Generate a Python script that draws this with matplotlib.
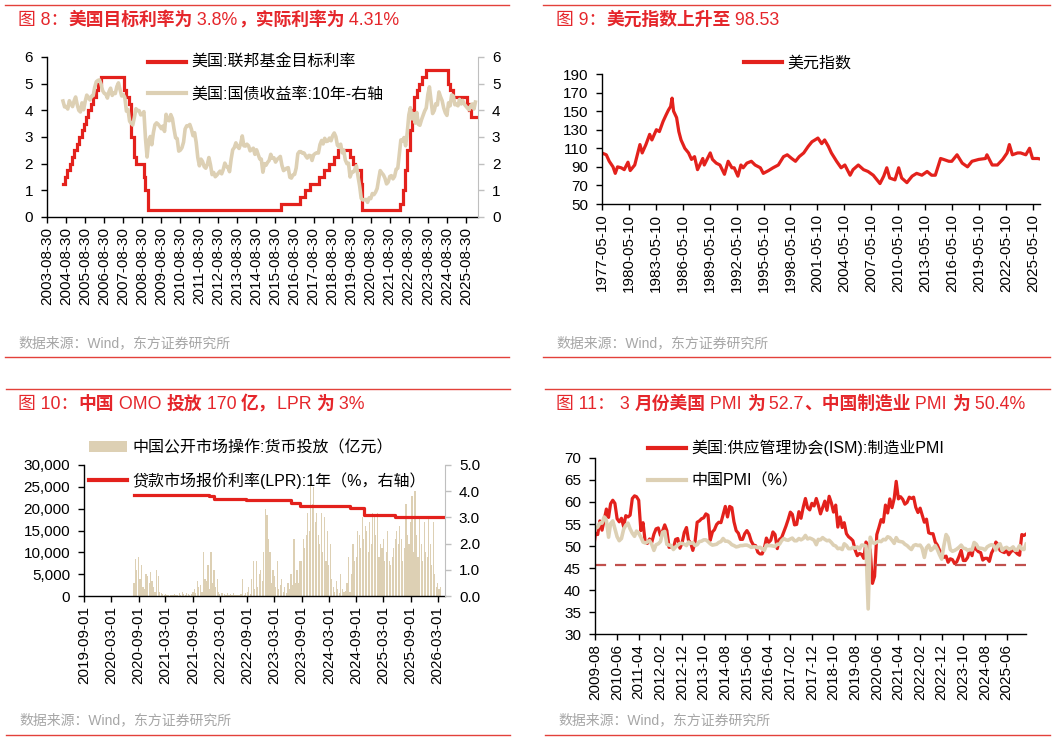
import matplotlib
matplotlib.use("Agg")
import matplotlib.pyplot as plt
import matplotlib.dates as mdates
import pandas as pd
from matplotlib.lines import Line2D
from matplotlib.patches import Patch
from matplotlib.offsetbox import TextArea, HPacker, AnchoredOffsetbox
from matplotlib.ticker import FuncFormatter, MultipleLocator

plt.rcParams["font.family"] = ["Liberation Sans", "Noto Sans CJK SC"]

RED = "#e3211c"
TITLE_RED = "#e5262b"
BEIGE = "#ddd0b4"
GREY_TEXT = "#a6a6a6"
W, H = 1061, 741

# ---- 图 8: Fed target rate (steps) and 10Y treasury yield (monthly)
fed_dates = ["2004-06-30", "2004-08-10", "2004-09-21", "2004-11-10", "2004-12-14",
             "2005-02-02", "2005-03-22", "2005-05-03", "2005-06-30", "2005-08-09",
             "2005-09-20", "2005-11-01", "2005-12-13", "2006-01-31", "2006-03-28",
             "2006-05-10", "2006-06-29", "2007-09-18", "2007-10-31", "2007-12-11",
             "2008-01-22", "2008-01-30", "2008-03-18", "2008-04-30", "2008-10-08",
             "2008-10-29", "2008-12-16", "2015-12-16", "2016-12-14", "2017-03-15",
             "2017-06-14", "2017-12-13", "2018-03-21", "2018-06-13", "2018-09-26",
             "2018-12-19", "2019-07-31", "2019-09-18", "2019-10-30", "2020-03-03",
             "2020-03-15", "2022-03-16", "2022-05-04", "2022-06-15", "2022-07-27",
             "2022-09-21", "2022-11-02", "2022-12-14", "2023-02-01", "2023-03-22",
             "2023-05-03", "2023-07-26", "2024-09-18", "2024-11-07", "2024-12-18",
             "2025-09-17", "2025-10-29", "2025-12-10", "2026-03-31"]
fed_rate = [1.25, 1.5, 1.75, 2.0, 2.25,
            2.5, 2.75, 3.0, 3.25, 3.5,
            3.75, 4.0, 4.25, 4.5, 4.75,
            5.0, 5.25, 4.75, 4.5, 4.25,
            3.5, 3.0, 2.25, 2.0, 1.5,
            1.0, 0.25, 0.5, 0.75, 1.0,
            1.25, 1.5, 1.75, 2.0, 2.25,
            2.5, 2.25, 2.0, 1.75, 1.25,
            0.25, 0.5, 1.0, 1.75, 2.5,
            3.25, 4.0, 4.5, 4.75, 5.0,
            5.25, 5.5, 5.0, 4.75, 4.5,
            4.25, 4.0, 3.75, 3.75]

ust10y_start = "2004-07-01"
ust10y = [
    4.35, 4.13, 4.14, 4.05, 4.36, 4.24,
    4.14, 4.36, 4.50, 4.21, 4.00, 3.94, 4.28, 4.02, 4.34, 4.57, 4.49, 4.39,
    4.53, 4.55, 4.85, 5.07, 5.12, 5.14, 4.99, 4.74, 4.64, 4.61, 4.46, 4.70,
    4.83, 4.56, 4.65, 4.63, 4.89, 5.03, 4.78, 4.54, 4.59, 4.48, 3.97, 4.03,
    3.59, 3.51, 3.45, 3.73, 4.06, 3.99, 3.99, 3.83, 3.85, 3.95, 2.93, 2.25,
    2.87, 3.02, 2.71, 3.16, 3.46, 3.53, 3.48, 3.40, 3.31, 3.41, 3.21, 3.85,
    3.63, 3.61, 3.84, 3.69, 3.31, 2.97, 2.94, 2.47, 2.51, 2.60, 2.81, 3.30,
    3.42, 3.42, 3.47, 3.29, 3.05, 3.16, 2.80, 2.23, 1.92, 2.17, 2.08, 1.89,
    1.83, 1.98, 2.23, 1.95, 1.59, 1.67, 1.51, 1.57, 1.65, 1.72, 1.62, 1.78,
    2.02, 1.89, 1.87, 1.70, 2.16, 2.52, 2.60, 2.78, 2.64, 2.57, 2.75, 3.04,
    2.67, 2.66, 2.73, 2.67, 2.48, 2.53, 2.58, 2.35, 2.52, 2.35, 2.18, 2.17,
    1.68, 2.00, 1.94, 2.05, 2.12, 2.35, 2.20, 2.22, 2.06, 2.16, 2.21, 2.27,
    1.94, 1.74, 1.78, 1.83, 1.85, 1.49, 1.46, 1.58, 1.60, 1.84, 2.37, 2.45,
    2.45, 2.39, 2.40, 2.29, 2.21, 2.31, 2.30, 2.12, 2.33, 2.38, 2.41, 2.40,
    2.72, 2.87, 2.74, 2.95, 2.83, 2.85, 2.96, 2.86, 3.05, 3.15, 3.01, 2.69,
    2.63, 2.73, 2.41, 2.51, 2.14, 2.00, 2.02, 1.50, 1.68, 1.69, 1.78, 1.92,
    1.51, 1.15, 0.70, 0.64, 0.65, 0.66, 0.55, 0.72, 0.69, 0.88, 0.84, 0.93,
    1.07, 1.44, 1.74, 1.65, 1.58, 1.45, 1.24, 1.31, 1.52, 1.55, 1.43, 1.52,
    1.79, 1.83, 2.32, 2.89, 2.85, 2.98, 2.67, 3.15, 3.83, 4.10, 3.68, 3.88,
    3.52, 3.92, 3.48, 3.44, 3.64, 3.81, 3.97, 4.09, 4.59, 4.88, 4.37, 3.88,
    3.99, 4.25, 4.20, 4.69, 4.51, 4.36, 4.09, 3.91, 3.81, 4.28, 4.17, 4.58,
    4.54, 4.21, 4.23, 4.17, 4.41, 4.24, 4.37, 4.23, 4.15, 4.08, 4.02, 4.17,
    4.24, 4.05, 4.31,
]

# ---- 图 9: dollar index
dxy_dates = ["1977-05", "1977-11", "1978-03", "1978-08", "1978-11", "1979-02", "1979-07",
             "1979-11", "1980-04", "1980-07", "1981-01", "1981-08", "1981-11", "1982-04",
             "1982-09", "1982-12", "1983-06", "1983-10", "1984-03", "1984-07", "1984-10",
             "1985-01", "1985-03", "1985-05", "1985-09", "1985-12", "1986-03", "1986-08",
             "1987-01", "1987-05", "1987-09", "1988-01", "1988-04", "1988-08", "1988-10",
             "1989-06", "1989-09", "1990-02", "1990-07", "1991-01", "1991-06", "1991-11",
             "1992-02", "1992-07", "1992-11", "1993-02", "1993-07", "1994-01", "1994-06",
             "1995-01", "1995-05", "1995-12", "1996-06", "1997-01", "1997-08", "1998-01",
             "1998-07", "1998-12", "1999-05", "1999-11", "2000-05", "2000-10", "2001-02",
             "2001-06", "2001-11", "2002-03", "2002-08", "2002-12", "2003-07", "2004-01",
             "2004-06", "2005-01", "2005-05", "2005-12", "2006-07", "2007-01", "2007-08",
             "2008-05", "2008-10", "2009-02", "2009-06", "2010-01", "2010-06", "2010-10",
             "2011-05", "2011-12", "2012-06", "2013-01", "2013-08", "2014-02", "2014-07",
             "2015-02", "2015-06", "2016-01", "2016-05", "2016-12", "2017-07", "2018-02",
             "2018-08", "2019-05", "2020-02", "2020-04", "2020-11", "2021-06", "2022-01",
             "2022-07", "2022-10", "2023-02", "2023-09", "2024-01", "2024-08", "2025-01",
             "2025-05", "2025-12", "2026-03"]
dxy = [105, 103, 96, 90, 83, 90, 89,
       87, 95, 86, 92, 114, 105, 114,
       125, 119, 130, 128, 139, 146, 151,
       155, 164, 150, 143, 128, 119, 110,
       105, 98, 101, 87, 92, 99, 92,
       105, 98, 94, 92, 82, 96, 89,
       89, 80, 92, 89, 94, 96, 92,
       89, 83, 86, 89, 92, 101, 103,
       99, 96, 101, 105, 112, 117, 119,
       121, 115, 119, 112, 105, 96, 89,
       92, 81, 87, 92, 87, 85, 81,
       72, 80, 89, 78, 76, 89, 78,
       73, 80, 83, 81, 85, 81, 81,
       99, 98, 96, 96, 103, 94, 90,
       96, 98, 99, 103, 92, 92, 98,
       105, 114, 103, 105, 105, 103, 110,
       99, 99, 98.5]
dxy_ticks = [50, 70, 90, 110, 130, 150, 170, 190]

# ---- 图 10: OMO injection (亿元), three readings a month, and 1Y LPR
omo_months = ("2020-08-01", "2026-03-01")
omo = [
    3000, 8500, 6000, 9000, 4000, 7000, 2000, 1500, 5000, 4500, 3000, 5500, 3500, 2000, 1000,
    6000, 4500, 1000, 600, 500, 300, 400, 300, 300, 300, 200, 300,
    400, 300, 200, 600, 300, 1000, 400, 300, 600, 500, 300, 400,
    1000, 1500, 800, 3500, 2000, 2500, 1000, 10000, 4000, 3500, 7000, 1500,
    10000, 3000, 6000, 2000, 4000, 1000, 500, 800, 600, 400, 300, 600,
    300, 500, 300, 800, 300, 200, 200, 300, 400, 4000, 300, 600,
    1000, 2000, 500, 4000, 8000, 1500, 8000, 2000, 5000, 6000, 3500, 10000,
    20000, 18600, 13000, 10000, 3000, 6000, 4500, 2000, 8000, 1500, 2500, 4000,
    1000, 2000, 600, 3000, 1500, 5000, 2500, 13000, 3000, 6000, 3000, 8000,
    8000, 13000, 11000, 14000, 19000, 15000, 27000, 21000, 25000, 17000, 19000, 14000,
    12000, 19000, 10000, 18000, 8000, 15000, 7000, 12000, 4000, 2000, 900, 3500,
    1500, 800, 5000, 1500, 900, 1200, 3000, 9000, 1000, 5000, 12000, 8000,
    9000, 15000, 14000, 11000, 18000, 13000, 16000, 15000, 10000, 17000, 12000, 19000,
    18000, 14000, 19000, 9000, 12000, 11000, 13000, 8000, 10000, 15000, 8000, 7000,
    9000, 11000, 13000, 15000, 12000, 16000, 13000, 8000, 11000, 21000, 14000, 12000,
    17000, 23000, 10000, 24000, 14000, 9000, 18000, 12000, 8000, 17000, 10000, 9000,
    18000, 12000, 7000, 17000, 5000, 2000, 3000, 1500, 2000,
]
lpr_dates = ["2020-08-01", "2021-12-20", "2022-01-20", "2022-08-22", "2023-06-20",
             "2023-08-21", "2024-07-22", "2024-10-21", "2025-05-20", "2026-04-30"]
lpr_1y = [3.85, 3.80, 3.70, 3.65, 3.55, 3.45, 3.35, 3.10, 3.00, 3.00]

# ---- 图 11: ISM manufacturing PMI and China PMI, monthly from 2009-07
pmi_start = "2009-07-01"
ism_pmi = [
    48.9, 52.9, 52.6, 55.7, 53.6, 55.9,
    58.4, 56.5, 59.6, 60.4, 59.7, 56.2, 55.5, 56.3, 54.4, 56.9, 56.6, 57.0,
    60.8, 61.4, 61.2, 60.4, 53.5, 55.3, 50.9, 50.6, 51.6, 50.8, 52.7, 53.9,
    54.1, 52.4, 53.4, 54.8, 53.5, 49.7, 49.8, 49.6, 51.5, 51.7, 49.5, 50.7,
    53.1, 54.2, 51.3, 50.7, 49.0, 50.9, 55.4, 55.7, 56.2, 56.4, 57.3, 57.0,
    51.3, 53.2, 53.7, 54.9, 55.4, 55.3, 57.1, 59.0, 56.6, 59.0, 58.7, 55.5,
    53.5, 52.9, 51.5, 51.5, 52.8, 53.5, 52.7, 51.1, 50.2, 50.1, 48.6, 48.2,
    48.2, 49.5, 51.8, 50.8, 51.3, 53.2, 52.6, 49.4, 51.5, 51.9, 53.2, 54.5,
    56.0, 57.7, 57.2, 54.8, 54.9, 57.8, 56.3, 58.8, 60.8, 58.7, 58.2, 59.7,
    59.1, 60.8, 59.3, 57.3, 58.7, 60.2, 58.1, 61.3, 59.8, 57.7, 59.3, 54.3,
    56.6, 54.2, 55.3, 52.8, 52.1, 51.7, 51.2, 49.1, 47.8, 48.3, 48.1, 47.2,
    50.9, 50.1, 49.1, 41.5, 43.1, 52.6, 54.2, 56.0, 55.4, 59.3, 57.5, 60.7,
    58.7, 60.8, 64.7, 60.7, 61.2, 60.6, 59.5, 59.9, 61.1, 60.8, 61.1, 58.8,
    57.6, 58.6, 57.1, 55.4, 56.1, 53.0, 52.8, 52.8, 50.9, 50.2, 49.0, 48.4,
    47.4, 47.7, 46.3, 47.1, 46.9, 46.0, 46.4, 47.6, 49.0, 46.7, 46.7, 47.4,
    49.1, 47.8, 50.3, 49.2, 48.7, 48.5, 46.8, 47.2, 47.2, 46.5, 48.4, 49.3,
    50.9, 50.3, 49.0, 48.7, 48.5, 49.0, 48.0, 48.7, 49.1, 48.7, 48.2, 47.9,
    52.6, 52.4, 52.7,
]
china_pmi = [
    53.3, 54.0, 54.3, 55.2, 55.2, 56.6,
    55.8, 52.0, 55.1, 55.7, 53.9, 52.1, 51.2, 51.7, 53.8, 54.7, 55.2, 53.9,
    52.9, 52.2, 53.4, 52.9, 52.0, 50.9, 50.7, 50.9, 51.2, 50.4, 49.0, 50.3,
    50.5, 51.0, 53.1, 53.3, 50.4, 50.2, 50.1, 49.2, 49.8, 50.2, 50.6, 50.6,
    50.4, 50.1, 50.9, 50.6, 50.8, 50.1, 50.3, 51.0, 51.1, 51.4, 51.4, 51.0,
    50.5, 50.2, 50.3, 50.4, 50.8, 51.0, 51.7, 51.1, 51.1, 50.8, 50.3, 50.1,
    49.8, 49.9, 50.1, 50.1, 50.2, 50.2, 50.0, 49.7, 49.8, 49.8, 49.6, 49.7,
    49.4, 49.0, 50.2, 50.1, 50.1, 50.0, 49.9, 50.4, 50.4, 51.2, 51.7, 51.4,
    51.3, 51.6, 51.8, 51.2, 51.2, 51.7, 51.4, 51.7, 52.4, 51.6, 51.8, 51.6,
    51.3, 50.3, 51.5, 51.4, 51.9, 51.5, 51.2, 51.3, 50.8, 50.2, 50.0, 49.4,
    49.5, 49.2, 50.5, 50.1, 49.4, 49.4, 49.7, 49.5, 49.8, 49.3, 50.2, 50.2,
    50.0, 35.7, 52.0, 50.8, 50.6, 50.9, 51.1, 51.0, 51.5, 51.4, 52.1, 51.9,
    51.3, 50.6, 51.9, 51.1, 51.0, 50.9, 50.4, 50.1, 49.6, 49.2, 50.1, 50.3,
    50.1, 50.2, 49.5, 47.4, 49.6, 50.2, 49.0, 49.4, 50.1, 49.2, 48.0, 47.0,
    50.1, 52.6, 51.9, 49.2, 48.8, 49.0, 49.3, 49.7, 50.2, 49.5, 49.4, 49.0,
    49.2, 49.1, 50.8, 50.4, 49.5, 49.5, 49.4, 49.1, 49.8, 50.1, 50.3, 50.1,
    49.1, 50.2, 50.5, 49.0, 49.5, 49.7, 49.3, 49.4, 49.8, 49.0, 49.2, 50.1,
    49.3, 49.2, 50.4,
]
pmi_reference = 45.6


def px_axes(fig, left, top, right, bottom):
    return fig.add_axes([left / W, 1 - bottom / H, (right - left) / W, (bottom - top) / H])


def style_axes(ax):
    ax.spines["top"].set_visible(False)
    ax.spines["right"].set_visible(False)
    ax.spines["left"].set_linewidth(1.0)
    ax.spines["bottom"].set_linewidth(1.0)
    ax.tick_params(direction="out", length=4, width=1, labelsize=11)
    ax.tick_params(axis="y", pad=6)
    ax.tick_params(axis="x", pad=3)


def style_twin(ax2):
    for side in ("left", "top", "bottom"):
        ax2.spines[side].set_visible(False)
    ax2.spines["right"].set_color("#bfbfbf")
    ax2.tick_params(axis="y", direction="out", length=4, width=1, labelsize=11, pad=6,
                    color="#bfbfbf", labelcolor="black")


def date_axis(ax, first, last, months, fmt, lim):
    ticks = pd.date_range(first, last, freq=pd.DateOffset(months=months))
    ax.set_xticks(mdates.date2num(ticks.to_pydatetime()))
    ax.set_xticklabels([t.strftime(fmt) for t in ticks], rotation=90)
    ax.set_xlim(mdates.date2num(pd.Timestamp(lim[0])), mdates.date2num(pd.Timestamp(lim[1])))


def add_title(fig, x, y, parts):
    boxes = [TextArea(text, textprops=dict(color=TITLE_RED, fontsize=12.8,
                                           fontweight="bold" if bold else "normal"))
             for text, bold in parts]
    box = HPacker(children=boxes, align="baseline", pad=0, sep=0)
    fig.add_artist(AnchoredOffsetbox(loc="center left", child=box, pad=0, borderpad=0,
                                     frameon=False, bbox_to_anchor=(x / W, 1 - y / H),
                                     bbox_transform=fig.transFigure))


def add_frame(fig, x0, x1, y_top, y_bottom, source_y):
    for y in (y_top, y_bottom):
        fig.add_artist(Line2D([x0 / W, x1 / W], [1 - y / H] * 2, transform=fig.transFigure,
                              color="#e3413a", lw=1.0))
    fig.text((x0 + 13) / W, 1 - source_y / H, "数据来源：Wind，东方证券研究所",
             color=GREY_TEXT, fontsize=10, va="center")


def add_legend(ax, fig, handles, labels, x, y, spacing=1.05):
    ax.legend(handles, labels, loc="upper left", bbox_to_anchor=(x / W, 1 - y / H),
              bbox_transform=fig.transFigure, frameon=False, borderpad=0, borderaxespad=0,
              handlelength=2.4, handletextpad=0.3, labelspacing=spacing, fontsize=11.5)


fig = plt.figure(figsize=(W / 100, H / 100), dpi=100)

# ---------------- 图 8
ax = px_axes(fig, 47, 57, 478, 217)
style_axes(ax)
ax.plot(pd.to_datetime(fed_dates).to_numpy(), fed_rate, color=RED, lw=2.3,
        drawstyle="steps-post", solid_joinstyle="miter")
ax.set_ylim(0, 6)
ax.yaxis.set_major_locator(MultipleLocator(1))
ax2 = ax.twinx()
style_twin(ax2)
ax2.plot(pd.date_range(ust10y_start, periods=len(ust10y), freq="MS").to_numpy(), ust10y,
         color=BEIGE, lw=2.6)
ax2.set_ylim(0, 6)
ax2.yaxis.set_major_locator(MultipleLocator(1))
date_axis(ax, "2003-08-30", "2025-08-30", 12, "%Y-%m-%d", ("2003-08-30", "2026-04-20"))
add_legend(ax2, fig,
           [Line2D([], [], color=RED, lw=3), Line2D([], [], color=BEIGE, lw=3)],
           ["美国:联邦基金目标利率", "美国:国债收益率:10年-右轴"], 148, 55)
add_title(fig, 18, 20, [("图 8：", False), ("美国目标利率为", True), (" 3.8%", False),
                        ("，实际利率为", True), (" 4.31%", False)])
add_frame(fig, 5, 509, 5, 357, 343)

# ---------------- 图 9
ax = px_axes(fig, 602, 74, 1040, 204)
style_axes(ax)
ax.plot(pd.to_datetime(dxy_dates).to_numpy(), dxy, color=RED, lw=2.3)
ax.set_ylim(50, 190)
ax.set_yticks(dxy_ticks)
date_axis(ax, "1977-05-10", "2025-05-10", 36, "%Y-%m-%d", ("1977-05-10", "2026-03-01"))
add_legend(ax, fig, [Line2D([], [], color=RED, lw=3)], ["美元指数"], 744, 56)
add_title(fig, 556, 20, [("图 9：", False), ("美元指数上升至", True), (" 98.53", False)])
add_frame(fig, 543, 1050, 5, 357, 343)

# ---------------- 图 10
ax = px_axes(fig, 84, 465, 445, 596)
style_axes(ax)
months = pd.date_range(*omo_months, freq="MS")
omo_dates = [m + pd.Timedelta(days=d) for m in months for d in (0, 10, 20)]
ax.bar(mdates.date2num(omo_dates), omo, width=8, color=BEIGE, linewidth=0)
ax.set_ylim(0, 30000)
ax.yaxis.set_major_locator(MultipleLocator(5000))
ax.yaxis.set_major_formatter(FuncFormatter(lambda v, p: f"{v:,.0f}"))
ax2 = ax.twinx()
style_twin(ax2)
ax2.plot(pd.to_datetime(lpr_dates).to_numpy(), lpr_1y, color=RED, lw=2.3,
         drawstyle="steps-post")
ax2.set_ylim(0, 5)
ax2.yaxis.set_major_locator(MultipleLocator(1))
ax2.yaxis.set_major_formatter(FuncFormatter(lambda v, p: f"{v:.1f}"))
date_axis(ax, "2019-09-01", "2026-03-01", 6, "%Y-%m-%d", ("2019-09-01", "2026-04-20"))
add_legend(ax2, fig, [Patch(color=BEIGE, lw=0), Line2D([], [], color=RED, lw=3)],
           ["中国公开市场操作:货币投放（亿元）", "贷款市场报价利率(LPR):1年（%，右轴）"], 89, 440)
add_title(fig, 18, 404, [("图 10：", False), ("中国", True), (" OMO ", False), ("投放", True),
                         (" 170 ", False), ("亿，", True), ("LPR ", False), ("为", True),
                         (" 3%", False)])
add_frame(fig, 6, 510, 389, 735, 720)

# ---------------- 图 11
ax = px_axes(fig, 595, 458, 1026, 634)
style_axes(ax)
pmi_dates = pd.date_range(pmi_start, periods=len(ism_pmi), freq="MS").to_numpy()
ax.plot(pmi_dates, ism_pmi, color=RED, lw=2.3)
ax.plot(pmi_dates, china_pmi, color=BEIGE, lw=2.6)
ax.axhline(pmi_reference, color="#c0504d", lw=1.6, dashes=(5, 4))
ax.set_ylim(30, 70)
ax.yaxis.set_major_locator(MultipleLocator(5))
date_axis(ax, "2009-08-01", "2025-06-01", 10, "%Y-%m", ("2009-07-25", "2026-03-01"))
add_legend(ax, fig, [Line2D([], [], color=RED, lw=3), Line2D([], [], color=BEIGE, lw=3)],
           ["美国:供应管理协会(ISM):制造业PMI", "中国PMI（%）"], 648, 440)
add_title(fig, 556, 404, [("图 11：", False), (" 3 ", False), ("月份美国", True),
                          (" PMI ", False), ("为", True), (" 52.7", False),
                          ("、中国制造业", True), (" PMI ", False), ("为", True),
                          (" 50.4%", False)])
add_frame(fig, 545, 1050, 389, 735, 720)

fig.savefig("out.png", dpi=100)
